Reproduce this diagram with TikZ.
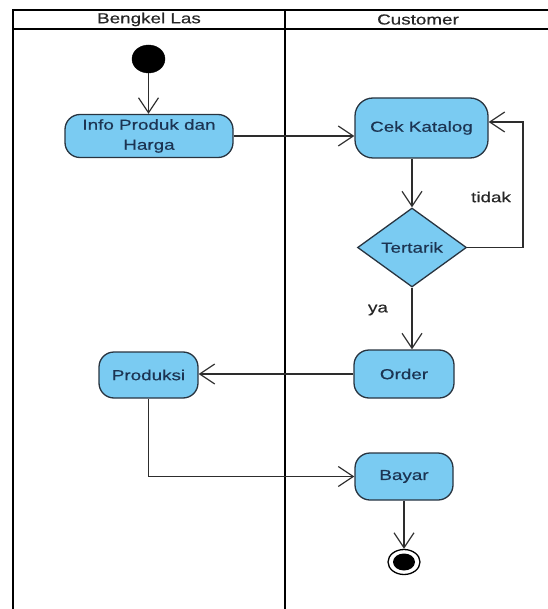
\documentclass[tikz,border=0pt]{standalone}
\usepackage{fontspec}
\setmainfont[FakeStretch=1.3,FakeBold=0.4]{Liberation Sans}
\usetikzlibrary{shapes.geometric,arrows.meta,calc}
\definecolor{actfill}{RGB}{122,203,242}
\definecolor{actdraw}{RGB}{40,52,64}
\definecolor{acttext}{RGB}{28,52,82}
\definecolor{lineclr}{RGB}{45,45,45}
\tikzset{
  lane/.style={line width=2.6pt,black},
  activity/.style={draw=actdraw,line width=1.3pt,fill=actfill,rounded corners=15pt,
    text=acttext,align=center,inner sep=2pt,font=\fontsize{14.5}{20}\selectfont},
  decision/.style={draw=actdraw,line width=1.3pt,fill=actfill,shape=diamond,aspect=1.38,
    inner sep=0pt,text=acttext,font=\fontsize{14.5}{20}\selectfont},
  flow/.style={draw=lineclr,line width=1.2pt,-{Straight Barb[length=15pt,width=20pt,line width=1.2pt]}},
  lbl/.style={text=black!85,font=\fontsize{14.5}{16}\selectfont,inner sep=0pt},
  hdr/.style={text=black!85,font=\fontsize{14.5}{16}\selectfont,inner sep=0pt}
}
\begin{document}
\begin{tikzpicture}[x=1pt,y=-1pt]
\useasboundingbox (0,0) rectangle (547,609);
% swimlanes
\draw[lane] (13,609) -- (13,10) -- (560,10);
\draw[lane] (13,29) -- (560,29);
\draw[lane] (285,10) -- (285,609);
\node[hdr] (h1) at (149,19.5) {Bengkel Las};
\node[hdr] (h2) at (418,19.5) {Customer};
% nodes
\node[ellipse,fill=black,draw=black,minimum width=33pt,minimum height=28pt,inner sep=0pt] (init) at (148.5,59) {};
\node[activity,minimum width=168pt,minimum height=43pt] (info) at (149,136) {Info Produk dan\\Harga};
\node[activity,minimum width=133pt,minimum height=60pt,rounded corners=18pt] (cek) at (421.5,128) {Cek Katalog};
\node[decision,minimum width=109pt,minimum height=79pt] (dia) at (412,247.5) {Tertarik};
\node[activity,minimum width=100pt,minimum height=48pt] (order) at (404,374) {Order};
\node[activity,minimum width=99pt,minimum height=46pt] (prod) at (148.5,375) {Produksi};
\node[activity,minimum width=98pt,minimum height=47pt] (bayar) at (404,476.5) {Bayar};
\node[ellipse,draw=black,line width=1.3pt,fill=white,minimum width=32pt,minimum height=25pt,inner sep=0pt] (final) at (404,562) {};
\node[ellipse,fill=black,minimum width=22pt,minimum height=17pt,inner sep=0pt] (finalin) at (final.center) {};
% connectors
\coordinate (lp) at (523,122);
\draw[flow] (init.south) -- (init.south |- info.north);
\draw[flow] (info.east) -- (info.east -| cek.west);
\draw[flow] (dia.north |- cek.south) -- (dia.north);
\draw[flow] (dia.east) -| (lp) -- (lp -| cek.east);
\draw[flow] (dia.south) -- (dia.south |- order.north);
\draw[flow] (order.west) -- (order.west -| prod.east);
\draw[flow] (prod.south) |- (bayar.west);
\draw[flow] (bayar.south) -- (bayar.south |- final.north);
% labels
\node[lbl] (ltidak) at (491,197) {tidak};
\node[lbl] (lya) at (378,310) {ya};
\end{tikzpicture}
\end{document}
